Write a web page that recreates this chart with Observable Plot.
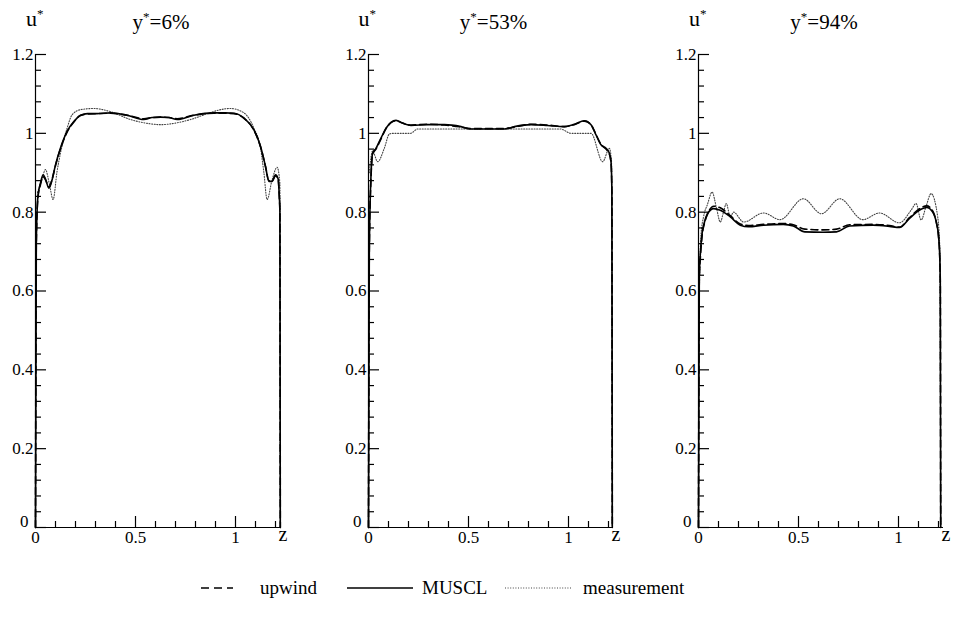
<!DOCTYPE html>
<html><head><meta charset="utf-8">
<script src="https://cdn.jsdelivr.net/npm/d3@7"></script>
<script src="https://cdn.jsdelivr.net/npm/@observablehq/plot@0.6"></script>
<style>
body{margin:0;background:#fff;}
#root{position:relative;width:958px;height:617px;overflow:hidden;font-family:"Liberation Serif","DejaVu Serif",serif;color:#000;background:#fff;}
.panel{position:absolute;top:0;width:330px;height:570px;}
.panel svg{position:absolute;left:0;top:0;}
.ulab{position:absolute;top:8px;font-size:22px;line-height:22px;white-space:nowrap;}
.ttl{position:absolute;top:12px;width:200px;text-align:center;font-size:21px;line-height:21px;white-space:nowrap;}
sup{font-size:13px;vertical-align:8px;line-height:0;}
.leg{position:absolute;top:577px;font-size:19px;line-height:22px;white-space:nowrap;}
</style></head>
<body><div id="root"></div>
<script>
// ---- data ----
const panelTitles = ["6%", "53%", "94%"];
const seriesNames = ["upwind", "MUSCL", "measurement"];

const zMajor = [0, 0.5, 1];
const zMajorLabels = ["0", "0.5", "1"];
const zMinor = [0.1, 0.2, 0.3, 0.4, 0.6, 0.7, 0.8, 0.9, 1.1, 1.2];
const uMajor = [0, 0.2, 0.4, 0.6, 0.8, 1, 1.2];
const uMajorLabels = ["0", "0.2", "0.4", "0.6", "0.8", "1", "1.2"];
const uMinor = [0.04, 0.08, 0.12, 0.16, 0.24, 0.28, 0.32, 0.36, 0.44, 0.48, 0.52, 0.56,
                0.64, 0.68, 0.72, 0.76, 0.84, 0.88, 0.92, 0.96, 1.04, 1.08, 1.12, 1.16];

// panel 1 (y* = 6%)
const p1SimZ = [0, 0.004, 0.012, 0.025, 0.038, 0.05, 0.067, 0.083, 0.10, 0.125, 0.158, 0.192, 0.225, 0.26, 0.308, 0.375, 0.458, 0.542, 0.583, 0.625, 0.667, 0.708, 0.792, 0.892, 0.95, 0.992, 1.042, 1.092, 1.125, 1.15, 1.167, 1.183, 1.2, 1.213, 1.219, 1.222, 1.224];
const p1MusclU = [0, 0.72, 0.84, 0.874, 0.895, 0.884, 0.861, 0.882, 0.92, 0.963, 1.005, 1.03, 1.046, 1.05, 1.05, 1.052, 1.046, 1.035, 1.04, 1.041, 1.04, 1.035, 1.046, 1.052, 1.052, 1.051, 1.039, 1.009, 0.967, 0.916, 0.878, 0.878, 0.895, 0.885, 0.84, 0.80, 0];
const p1UpwindU = [0, 0.72, 0.835, 0.87, 0.89, 0.882, 0.864, 0.884, 0.918, 0.961, 1.003, 1.029, 1.045, 1.049, 1.05, 1.051, 1.046, 1.037, 1.04, 1.041, 1.04, 1.037, 1.046, 1.051, 1.051, 1.05, 1.038, 1.008, 0.966, 0.916, 0.88, 0.879, 0.892, 0.884, 0.84, 0.80, 0];
const p1MeasZ = [0.01, 0.03, 0.05, 0.07, 0.088, 0.108, 0.125, 0.158, 0.183, 0.225, 0.292, 0.375, 0.475, 0.55, 0.625, 0.70, 0.775, 0.86, 0.908, 0.975, 1.042, 1.092, 1.125, 1.142, 1.158, 1.183, 1.208, 1.222, 1.224];
const p1MeasU = [0.85, 0.88, 0.908, 0.87, 0.832, 0.904, 0.95, 1.013, 1.047, 1.06, 1.063, 1.055, 1.035, 1.026, 1.022, 1.026, 1.035, 1.05, 1.058, 1.063, 1.052, 1.013, 0.963, 0.90, 0.832, 0.882, 0.914, 0.874, 0];

// panel 2 (y* = 53%)
const p2SimZ = [0, 0.004, 0.012, 0.021, 0.0375, 0.0625, 0.0875, 0.1125, 0.1375, 0.17, 0.2125, 0.298, 0.38, 0.4625, 0.5125, 0.598, 0.68, 0.73, 0.8125, 0.895, 0.979, 1.029, 1.079, 1.1125, 1.1375, 1.1625, 1.1875, 1.204, 1.2125, 1.217, 1.219];
const p2MusclU = [0, 0.7, 0.886, 0.95, 0.962, 0.988, 1.013, 1.028, 1.033, 1.026, 1.020, 1.022, 1.022, 1.017, 1.011, 1.011, 1.011, 1.017, 1.022, 1.020, 1.017, 1.023, 1.032, 1.022, 0.996, 0.971, 0.962, 0.95, 0.928, 0.85, 0];
const p2UpwindU = [0, 0.7, 0.88, 0.948, 0.96, 0.986, 1.012, 1.027, 1.032, 1.026, 1.021, 1.023, 1.021, 1.016, 1.012, 1.012, 1.012, 1.016, 1.023, 1.021, 1.017, 1.022, 1.031, 1.022, 0.997, 0.972, 0.96, 0.948, 0.926, 0.85, 0];
const p2MeasZ = [0.004, 0.02, 0.046, 0.079, 0.104, 0.12, 0.21, 0.246, 0.6, 0.96, 1.0125, 1.1125, 1.171, 1.204, 1.215, 1.219];
const p2MeasU = [0.90, 0.955, 0.928, 0.962, 0.998, 1.0, 1.0, 1.011, 1.011, 1.011, 1.0, 1.0, 0.928, 0.962, 0.93, 0];

// panel 3 (y* = 94%)
const p3SimZ = [0, 0.004, 0.01, 0.018, 0.03, 0.045, 0.076, 0.109, 0.159, 0.209, 0.25, 0.325, 0.424, 0.474, 0.532, 0.623, 0.69, 0.756, 0.872, 0.955, 1.005, 1.055, 1.104, 1.141, 1.171, 1.19, 1.2, 1.206, 1.209, 1.211];
const p3MusclU = [0, 0.64, 0.70, 0.746, 0.775, 0.796, 0.809, 0.805, 0.788, 0.767, 0.763, 0.767, 0.769, 0.765, 0.750, 0.749, 0.750, 0.765, 0.767, 0.764, 0.761, 0.784, 0.805, 0.812, 0.80, 0.772, 0.74, 0.69, 0.62, 0];
const p3UpwindU = [0, 0.63, 0.69, 0.74, 0.772, 0.795, 0.815, 0.811, 0.791, 0.77, 0.766, 0.769, 0.771, 0.768, 0.757, 0.755, 0.757, 0.768, 0.769, 0.766, 0.762, 0.786, 0.808, 0.816, 0.803, 0.772, 0.74, 0.69, 0.62, 0];
const p3MeasZ = [0.004, 0.012, 0.026, 0.045, 0.068, 0.09, 0.109, 0.125, 0.139, 0.159, 0.175, 0.226, 0.325, 0.408, 0.524, 0.615, 0.706, 0.822, 0.905, 1.005, 1.063, 1.088, 1.113, 1.138, 1.163, 1.196, 1.207, 1.211];
const p3MeasU = [0.6, 0.74, 0.79, 0.82, 0.851, 0.81, 0.775, 0.80, 0.822, 0.788, 0.80, 0.775, 0.798, 0.781, 0.834, 0.796, 0.834, 0.781, 0.798, 0.773, 0.805, 0.822, 0.78, 0.815, 0.847, 0.788, 0.7, 0];

// ---- layout / style config ----
const panelLefts = [0, 332.5, 663];
const W = 320, H = 567, ML = 35, MR = 40, MT = 54, MB = 40;
const frameW = W - ML - MR, frameH = H - MT - MB;
const serif = '"Liberation Serif","DejaVu Serif",serif';
const lineStyles = {
  upwind: {stroke: "#000", strokeWidth: 1.6, strokeDasharray: "7,4"},
  MUSCL: {stroke: "#000", strokeWidth: 1.6},
  measurement: {stroke: "#444", strokeWidth: 1.1, strokeDasharray: "1,1.6"}
};

const rows = (zs, us) => zs.map((z, j) => ({z, u: us[j]}));
const panels = [
  {title: panelTitles[0], upwind: rows(p1SimZ, p1UpwindU), MUSCL: rows(p1SimZ, p1MusclU), measurement: rows(p1MeasZ, p1MeasU)},
  {title: panelTitles[1], upwind: rows(p2SimZ, p2UpwindU), MUSCL: rows(p2SimZ, p2MusclU), measurement: rows(p2MeasZ, p2MeasU)},
  {title: panelTitles[2], upwind: rows(p3SimZ, p3UpwindU), MUSCL: rows(p3SimZ, p3MusclU), measurement: rows(p3MeasZ, p3MeasU)}
];

const root = document.getElementById("root");
const ink = {stroke: "#000", strokeWidth: 1.2};
const uLabelOf = d => uMajorLabels[uMajor.indexOf(d)];

panels.forEach((p, i) => {
  const div = document.createElement("div");
  div.className = "panel";
  div.style.left = panelLefts[i] + "px";
  const chart = Plot.plot({
    width: W, height: H, marginLeft: ML, marginRight: MR, marginTop: MT, marginBottom: MB,
    x: {domain: [0, 1.225]},
    y: {domain: [0, 1.2]},
    style: {fontFamily: serif, fontSize: "17px", color: "#000", background: "transparent", overflow: "visible"},
    marks: [
      Plot.line(p.measurement, {x: "z", y: "u", curve: "monotone-x", ...lineStyles.measurement}),
      Plot.line(p.MUSCL, {x: "z", y: "u", curve: "monotone-x", ...lineStyles.MUSCL}),
      Plot.line(p.upwind, {x: "z", y: "u", curve: "monotone-x", ...lineStyles.upwind}),
      Plot.ruleX([0], ink),
      Plot.ruleY([0], ink),
      Plot.tickY(uMajor, {y: d => d, insetRight: frameW - 11, ...ink}),
      Plot.tickY(uMinor, {y: d => d, insetRight: frameW - 6, ...ink}),
      Plot.tickX(zMajor, {x: d => d, insetTop: frameH - 11, ...ink}),
      Plot.tickX(zMinor, {x: d => d, insetTop: frameH - 6, ...ink}),
      Plot.axisY({ticks: uMajor.filter(d => d > 0), tickSize: 0, tickPadding: 2, label: null, fontSize: 17, fontFamily: serif,
        tickFormat: uLabelOf}),
      Plot.text(uMajor.filter(d => d === 0), {x: 0, y: d => d, text: uLabelOf, textAnchor: "end", dx: -7, dy: -6, fontSize: 17, fontFamily: serif}),
      Plot.axisX({ticks: zMajor, tickSize: 0, tickPadding: 3, label: null, fontSize: 17, fontFamily: serif,
        tickFormat: d => zMajorLabels[zMajor.indexOf(d)]}),
      Plot.text(["z"], {frameAnchor: "bottom-right", text: d => d, dx: 7, dy: 13, fontSize: 20, fontFamily: serif})
    ]
  });
  div.appendChild(chart);
  const u = document.createElement("div");
  u.className = "ulab";
  u.style.left = (ML - 9) + "px";
  u.innerHTML = "u<sup>*</sup>";
  div.appendChild(u);
  const t = document.createElement("div");
  t.className = "ttl";
  t.style.left = (ML + 126 - 100) + "px";
  t.innerHTML = "y<sup>*</sup>=" + p.title;
  div.appendChild(t);
  root.appendChild(div);
});

// legend
const legSampleLeft = [201, 347, 505];
const legSampleWidth = [32, 66, 67];
const legTextLeft = [260, 422, 583];
seriesNames.forEach((name, i) => {
  const st = lineStyles[name];
  const s = document.createElementNS("http://www.w3.org/2000/svg", "svg");
  s.setAttribute("width", legSampleWidth[i]);
  s.setAttribute("height", 22);
  s.style.position = "absolute";
  s.style.left = legSampleLeft[i] + "px";
  s.style.top = "577px";
  const l = document.createElementNS("http://www.w3.org/2000/svg", "line");
  l.setAttribute("x1", 0); l.setAttribute("x2", legSampleWidth[i]);
  l.setAttribute("y1", 11); l.setAttribute("y2", 11);
  l.setAttribute("stroke", st.stroke);
  l.setAttribute("stroke-width", st.strokeWidth);
  if (st.strokeDasharray) l.setAttribute("stroke-dasharray", name === "upwind" ? "8,5" : st.strokeDasharray);
  s.appendChild(l);
  root.appendChild(s);
  const t = document.createElement("div");
  t.className = "leg";
  t.style.left = legTextLeft[i] + "px";
  t.textContent = name;
  root.appendChild(t);
});
</script>
</body></html>
